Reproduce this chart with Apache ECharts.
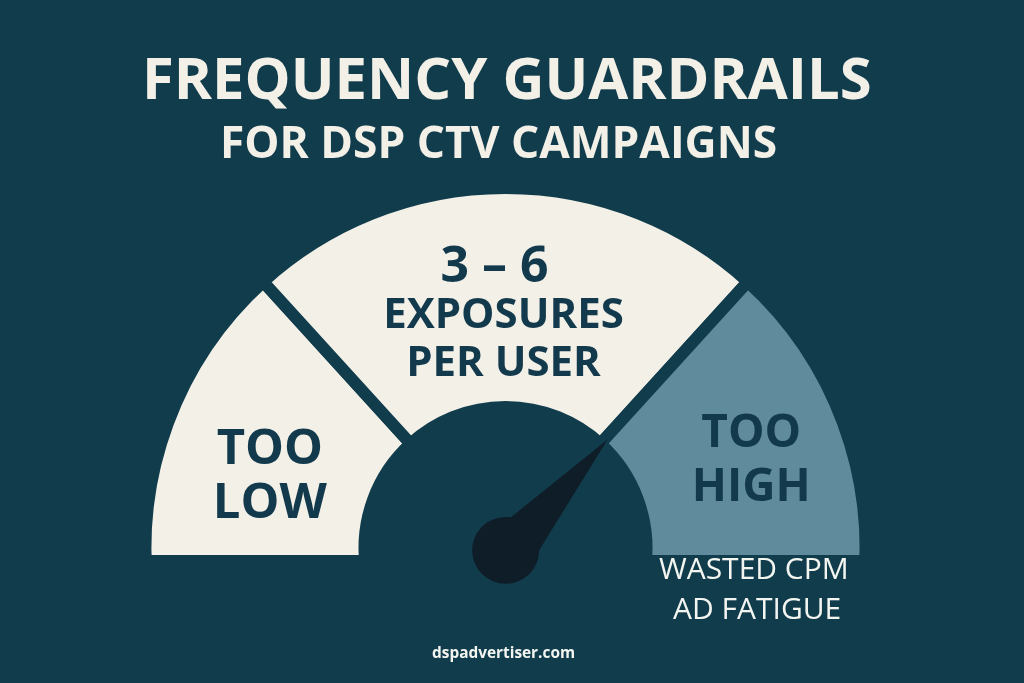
<!DOCTYPE html>
<html>
<head>
<meta charset="utf-8">
<title>Frequency guardrails</title>
<script src="https://cdn.jsdelivr.net/npm/echarts@6/dist/echarts.min.js"></script>
<style>
  html, body { margin: 0; padding: 0; background: #113c4c; }
  #chart { width: 1024px; height: 683px; }
</style>
</head>
<body>
<div id="chart"></div>
<script>
// zones and how many degrees of the dial each one takes
// the outer two run 7 degrees past the bottom edge, the mask below trims them flat
var zoneNames = ['TOO\nLOW', '3 – 6\nEXPOSURES\nPER USER', 'TOO\nHIGH'];
var zoneDegrees = [54.7, 84.6, 54.7];
var restDegrees = 166;
var zoneColors = ['#f3f0e8', '#f3f0e8', '#5f8b9c'];
var needleValue = 132.6;
var titleLines = ['FREQUENCY GUARDRAILS', 'FOR DSP CTV CAMPAIGNS'];
var noteLines = ['WASTED CPM', 'AD FATIGUE'];
var siteName = 'dspadvertiser.com';

var bg = '#113c4c';
var dark = '#123a4c';
var cream = '#f3f0e8';
var font = 'Open Sans';

var chart = echarts.init(document.getElementById('chart'));

var labelSizes = [49, 50, 46];

var pieData = zoneNames.map(function (name, i) {
    return {
        name: name,
        value: zoneDegrees[i],
        itemStyle: { color: zoneColors[i] },
        label: { fontSize: labelSizes[i] }
    };
});
pieData.push({
    name: 'rest',
    value: restDegrees,
    itemStyle: { color: 'transparent', borderWidth: 0 },
    label: { show: false }
});

// moves the zone labels off the slice centres
var labelShift = [[2, 17], [-2, 21], [8, 1]];

chart.setOption({
    backgroundColor: bg,
    animation: false,
    title: [
        {
            text: titleLines[0], left: 137, top: 48, z: 10,
            textStyle: { color: cream, fontFamily: font, fontWeight: 700, fontSize: 58 }
        },
        {
            text: titleLines[1], left: 215, top: 118, z: 10,
            textStyle: { color: cream, fontFamily: font, fontWeight: 700, fontSize: 44.3 }
        }
    ],
    series: [
        {
            type: 'pie',
            z: 2,
            silent: true,
            center: [505.5, 548],
            radius: [141, 360],
            startAngle: 187,
            clockwise: true,
            minAngle: 0,
            avoidLabelOverlap: false,
            itemStyle: { borderColor: bg, borderWidth: 12 },
            label: {
                show: true,
                position: 'inside',
                rotate: 0,
                color: dark,
                fontFamily: font,
                fontWeight: 700,
                fontSize: 48,
                lineHeight: 54,
                formatter: function (p) {
                    if (p.dataIndex === 1) {
                        var parts = p.name.split('\n');
                        return '{big|' + parts[0] + '}\n{sm|' + parts[1] + '}\n{sm|' + parts[2] + '}';
                    }
                    return p.name;
                },
                rich: {
                    big: { color: dark, fontFamily: font, fontWeight: 700, fontSize: 50, lineHeight: 50, padding: [0, 18, 0, 0] },
                    sm: { color: dark, fontFamily: font, fontWeight: 700, fontSize: 42, lineHeight: 48 }
                }
            },
            labelLine: { show: false },
            labelLayout: function (p) {
                var s = labelShift[p.dataIndex] || [0, 0];
                return { dx: s[0], dy: s[1] };
            },
            data: pieData
        },
        {
            type: 'gauge',
            z: 4,
            silent: true,
            center: [506, 550],
            radius: 150,
            startAngle: 180,
            endAngle: 0,
            min: 0,
            max: 180,
            axisLine: { show: false },
            axisTick: { show: false },
            splitLine: { show: false },
            axisLabel: { show: false },
            title: { show: false },
            detail: { show: false },
            anchor: { show: false },
            pointer: {
                icon: 'path://M33.5 0L58.1 127.8A33.5 33.5 0 1 1 15 122.6Z',
                length: 184,
                width: 67,
                offsetCenter: [0, 34],
                itemStyle: { color: '#0f1d28' }
            },
            data: [{ value: needleValue }]
        }
    ],
    graphic: {
        z: 3,
        elements: [
            // flat bottom edge of the dial
            {
                type: 'rect', z: 3, silent: true,
                shape: { x: 100, y: 555, width: 824, height: 45 },
                style: { fill: bg }
            },
            {
                type: 'text', z: 5, silent: true, left: 659, top: 555,
                style: { text: noteLines[0], fill: '#f3f5f0', font: '500 30px "' + font + '"' }
            },
            {
                type: 'text', z: 5, silent: true, left: 673, top: 595,
                style: { text: noteLines[1], fill: '#f3f5f0', font: '500 30px "' + font + '"' }
            },
            {
                type: 'text', z: 5, silent: true, left: 432, top: 646,
                style: { text: siteName, fill: '#f3f5f0', font: '700 15.4px "' + font + '"' }
            }
        ]
    }
});
</script>
</body>
</html>
